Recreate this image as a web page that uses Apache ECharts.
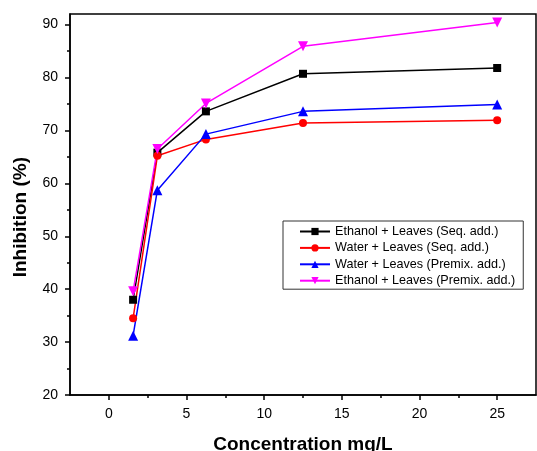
<!DOCTYPE html>
<html>
<head>
<meta charset="utf-8">
<script src="https://cdn.jsdelivr.net/npm/echarts@6/dist/echarts.min.js"></script>
<style>
html,body{margin:0;padding:0;background:#fff;}
#c{width:537px;height:451px;}
</style>
</head>
<body>
<div id="c"></div>
<script>
var concentration = [1.5625, 3.125, 6.25, 12.5, 25];
var ethanolSeq = [38.0, 65.8, 73.6, 80.7, 81.8];
var waterSeq = [34.5, 65.2, 68.3, 71.4, 71.9];
var waterPremix = [31.2, 58.7, 69.3, 73.6, 74.9];
var ethanolPremix = [39.6, 66.5, 75.1, 85.9, 90.4];
var seriesNames = ['Ethanol + Leaves (Seq. add.)', 'Water + Leaves (Seq. add.)', 'Water + Leaves (Premix. add.)', 'Ethanol + Leaves (Premix. add.)'];
var xMajorTicks = [0, 5, 10, 15, 20, 25];
var xMinorTicks = [2.5, 7.5, 12.5, 17.5, 22.5];
var yMajorTicks = [20, 30, 40, 50, 60, 70, 80, 90];
var yMinorTicks = [25, 35, 45, 55, 65, 75, 85];

function pairs(ys){ return concentration.map(function(x,i){ return [x, ys[i]]; }); }

var FONT = '"Liberation Sans", Arial, sans-serif';
var chart = echarts.init(document.getElementById('c'));
var axisLineStyle = {color:'#000', width:1.5};

function mkSeries(name, data, color, symbol, size, rot){
  return {
    name:name, type:'line', data:pairs(data), xAxisIndex:0, yAxisIndex:0,
    symbol:symbol, symbolSize:size, symbolRotate:rot||0,
    lineStyle:{color:color, width:1.5}, itemStyle:{color:color},
    animation:false
  };
}

chart.setOption({
  animation:false,
  textStyle:{fontFamily:FONT},
  grid:{left:70, top:14, right:1, bottom:56, show:true, borderColor:'#000', borderWidth:1.5,
        containLabel:false, outerBoundsMode:'none'},
  legend:{
    orient:'vertical', left:283, top:221,
    padding:[4, 8, 2, 16], itemGap:3.4, itemWidth:30, itemHeight:9,
    borderColor:'#333', borderWidth:1,
    textStyle:{fontFamily:FONT, fontSize:12.6, color:'#000'},
    data:seriesNames
  },
  xAxis:[{
    type:'value', min:-2.5, max:27.5, interval:2.5,
    axisLine:{show:true, onZero:false, lineStyle:axisLineStyle},
    axisTick:{show:true, inside:false, length:5, lineStyle:{color:'#000', width:1.5}, customValues:xMajorTicks},
    axisLabel:{show:true, margin:12, fontSize:14, color:'#000', fontFamily:FONT, customValues:xMajorTicks},
    splitLine:{show:false},
    name:'Concentration mg/L', nameLocation:'middle', nameGap:40,
    nameTextStyle:{fontSize:19, fontWeight:'bold', color:'#000', fontFamily:FONT}
  },{
    type:'value', min:-2.5, max:27.5, interval:2.5, position:'bottom',
    axisLine:{show:false, onZero:false},
    axisTick:{show:true, length:3, lineStyle:{color:'#000', width:1.5}, customValues:xMinorTicks},
    axisLabel:{show:false}, splitLine:{show:false}
  }],
  yAxis:[{
    type:'value', min:20, max:92, interval:10, position:'left',
    axisLine:{show:true, onZero:false, lineStyle:axisLineStyle},
    axisTick:{show:true, length:5, lineStyle:{color:'#000', width:1.5}, customValues:yMajorTicks},
    axisLabel:{show:true, margin:12, fontSize:14, color:'#000', fontFamily:FONT, customValues:yMajorTicks},
    splitLine:{show:false}
  },{
    type:'value', min:20, max:92, interval:10, position:'left',
    axisLine:{show:false, onZero:false},
    axisTick:{show:true, length:3, lineStyle:{color:'#000', width:1.5}, customValues:yMinorTicks},
    axisLabel:{show:false}, splitLine:{show:false}
  }],
  graphic:[{
    type:'text', left:11, top:157,
    rotation:Math.PI/2,
    style:{text:'Inhibition (%)', font:'bold 19px ' + FONT, fill:'#000'}
  }],
  series:[
    mkSeries(seriesNames[0], ethanolSeq, '#000000', 'rect', 8),
    mkSeries(seriesNames[1], waterSeq, '#ff0000', 'circle', 8),
    mkSeries(seriesNames[2], waterPremix, '#0000ff', 'triangle', 10),
    mkSeries(seriesNames[3], ethanolPremix, '#ff00ff', 'triangle', 10, 180)
  ]
});
</script>
</body>
</html>
